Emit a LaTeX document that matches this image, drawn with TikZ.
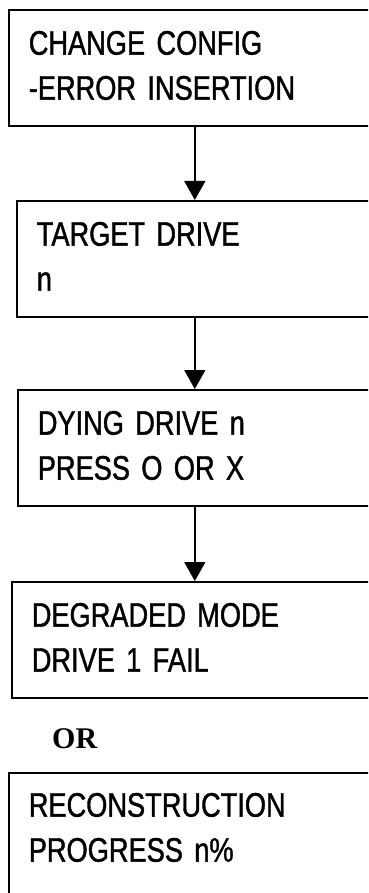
\documentclass[tikz,border=0pt]{standalone}
\usepackage{fontspec}
\newfontfamily\lcdfont[FakeStretch=0.80, FakeBold=1.2]{Liberation Sans}
\newfontfamily\orfont{Liberation Serif}
\usetikzlibrary{arrows.meta,positioning}
\newcommand\lowstrut{\rule[-5pt]{0pt}{5pt}}

\begin{document}
\begin{tikzpicture}[x=1pt, y=-1pt,
  screen/.style={draw, line width=1.6pt, anchor=north west, align=left, inner xsep=20pt, minimum height=116pt, font=\lcdfont\fontsize{34}{45}\selectfont},
  flow/.style={-{Triangle[length=19pt,width=21pt]}, line width=1.5pt}]
  \useasboundingbox (0,0) rectangle (368,893);
  \clip (0,0) rectangle (368,893);

  % Screen 1: change config
  \node[screen, text width=332pt] (config) at (8,9) {CHANGE CONFIG\\-ERROR INSERTION\lowstrut};

  % Screen 2: target drive
  \node[screen, text width=314pt] (target) at (16,200) {TARGET DRIVE\\n\lowstrut};

  % Screen 3: dying drive
  \node[screen, text width=313pt] (dying) at (17,389) {DYING DRIVE n\\PRESS O OR X\lowstrut};

  % Screen 4: degraded mode
  \node[screen, text width=324pt] (degraded) at (11,581) {DEGRADED MODE\\DRIVE 1 FAIL\lowstrut};

  % Alternative
  \node[font=\orfont\bfseries\fontsize{30}{34}\selectfont, anchor=base west, inner sep=0pt] (alt) at (52,748) {OR};

  % Screen 5: reconstruction (runs off the page)
  \node[screen, text width=332pt, minimum height=154pt] (rebuild) at (8,772) {RECONSTRUCTION\\PROGRESS n\%\\\mbox{}};

  % Arrows between screens
  \draw[flow] (config.south) -- (config.south |- target.north);
  \draw[flow] (target.south -| config.south) -- (config.south |- dying.north);
  \draw[flow] (dying.south -| config.south) -- (config.south |- degraded.north);
\end{tikzpicture}
\end{document}
